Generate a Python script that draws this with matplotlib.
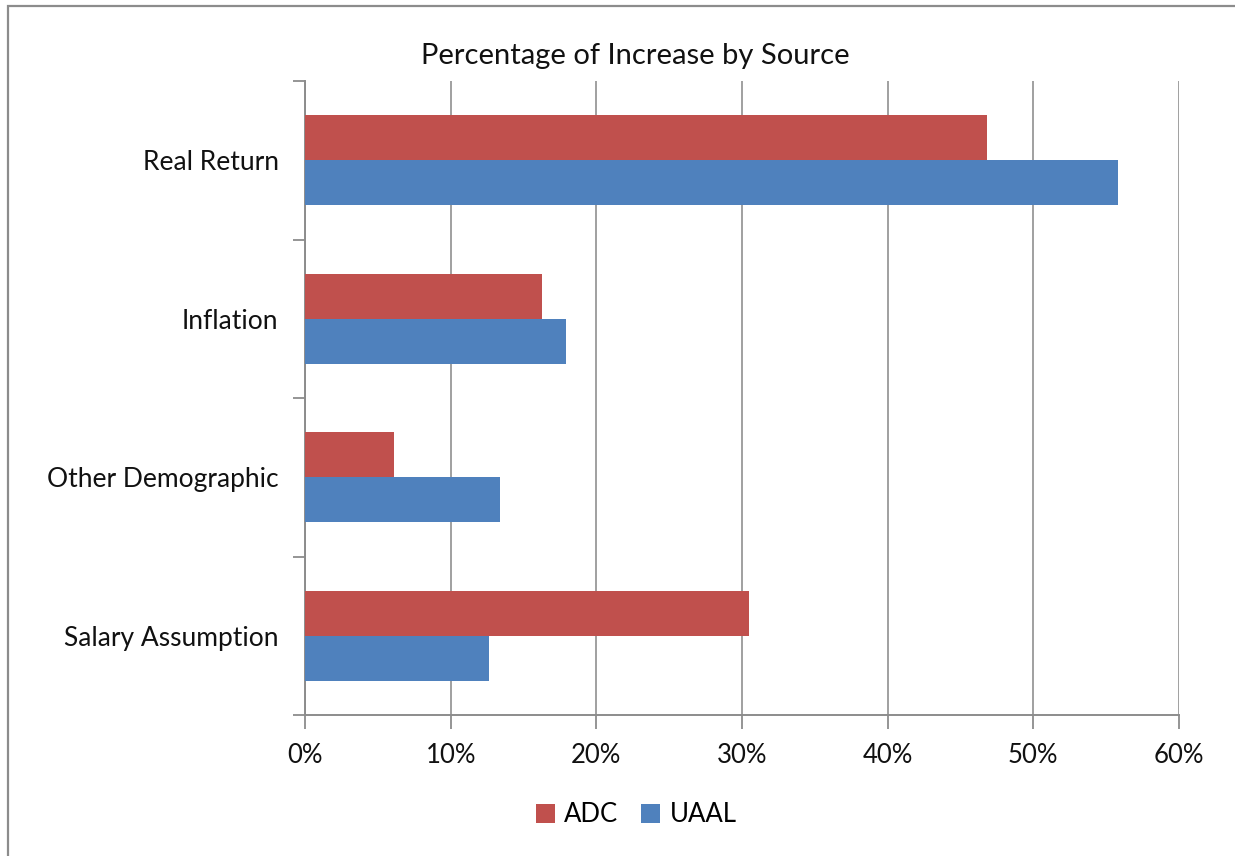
import numpy as np
import matplotlib.pyplot as plt
from matplotlib.patches import Rectangle
from matplotlib.ticker import FixedLocator, PercentFormatter

# data (bottom to top, as in the Excel chart)
categories = ['Salary Assumption', 'Other Demographic', 'Inflation', 'Real Return']
adc = [30.5, 6.1, 16.3, 46.8]
uaal = [12.6, 13.4, 17.9, 55.8]
xticks = [0, 10, 20, 30, 40, 50, 60]

plt.rcParams['font.family'] = ['Lato', 'DejaVu Sans']

fig = plt.figure(figsize=(12.35, 8.56), dpi=100)
W, H = 1235, 856
ax = fig.add_axes([305 / W, 1 - 715 / H, (1179 - 305) / W, (715 - 81) / H])

# outer chart border
fig.patches.append(Rectangle((8 / W, -0.1), 1.2, 1 - 6 / H + 0.1, transform=fig.transFigure,
                             fill=False, edgecolor='#8c8c8c', lw=1.6))

y = np.arange(len(categories))
h = 0.285
ax.barh(y + h / 2, adc, height=h, color='#C0504D', label='ADC', zorder=3)
ax.barh(y - h / 2, uaal, height=h, color='#4F81BD', label='UAAL', zorder=3)

ax.set_xlim(0, 60)
ax.set_ylim(-0.5, len(categories) - 0.5)
ax.set_xticks(xticks)
ax.xaxis.set_major_formatter(PercentFormatter(decimals=0))
ax.set_yticks(y)
ax.set_yticklabels(categories)
ax.yaxis.set_minor_locator(FixedLocator(np.arange(-0.5, len(categories), 1)))
ax.tick_params(axis='y', which='major', length=0, pad=19, labelsize=19, labelcolor='#111111')
ax.tick_params(axis='y', which='minor', length=9, width=1.3, color='#8c8c8c')
ax.tick_params(axis='x', which='major', length=10, width=1.3, color='#8c8c8c',
               pad=10, labelsize=18.5, labelcolor='#111111')

ax.grid(axis='x', color='#a0a0a0', lw=1.4, zorder=0)
for s in ['top', 'right']:
    ax.spines[s].set_visible(False)
for s in ['left', 'bottom']:
    ax.spines[s].set_color('#8c8c8c')
    ax.spines[s].set_linewidth(1.4)

fig.text(635 / W, 1 - 56 / H, 'Percentage of Increase by Source', ha='center', va='center',
         fontsize=21, color='#111111')

fig.legend(loc='center', bbox_to_anchor=(636 / W, 1 - 815 / H), ncol=2, frameon=False,
           fontsize=18.5, handlelength=0.75, handleheight=0.75, handletextpad=0.35,
           columnspacing=0.9)

fig.savefig('out.png', dpi=100)
